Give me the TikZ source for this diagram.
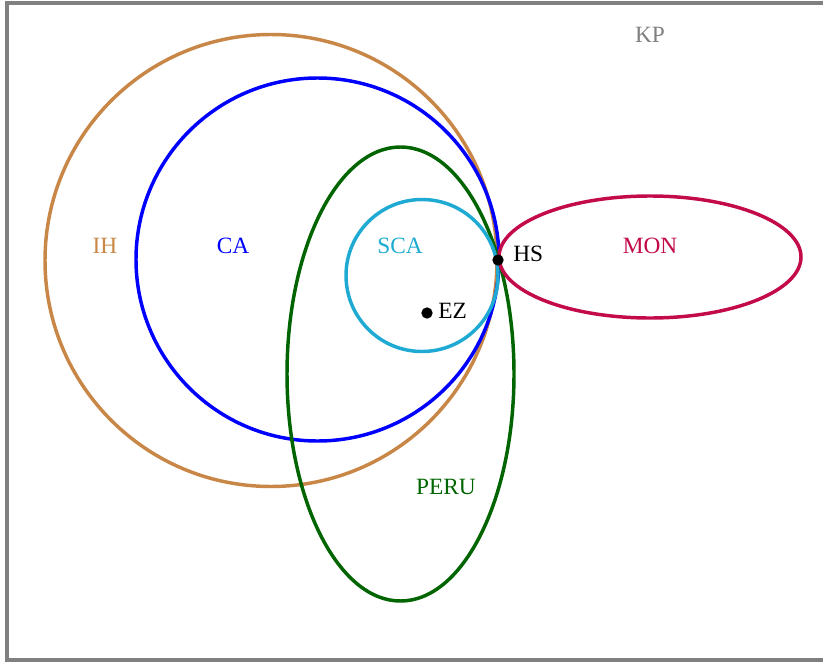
\documentclass[tikz,border=0pt]{standalone}
\usepackage{fontspec}
\setmainfont{Liberation Serif}
\definecolor{kpgray}{RGB}{128,128,128}
\definecolor{ihbrown}{RGB}{200,135,70}
\definecolor{cablue}{RGB}{0,0,255}
\definecolor{scacyan}{RGB}{30,170,210}
\definecolor{perugreen}{RGB}{0,100,0}
\definecolor{moncrimson}{RGB}{195,10,75}
\begin{document}
\begin{tikzpicture}[x=0.75pt,y=-0.75pt,
  setline/.style={line width=2.6pt},
  lbl/.style={font=\fontsize{17.5}{20}\selectfont, inner sep=0pt},
  dotpt/.style={circle, fill=black, inner sep=0pt, minimum size=8.5pt}]
\useasboundingbox (0,0) rectangle (823,663);
% frame KP
\draw[kpgray, line width=3pt] (7,3) rectangle (828,660);
\node[lbl, text=kpgray] (kp) at (650,35) {KP};
% IH
\draw[setline, ihbrown] (271,260.5) circle[radius=226*0.75pt];
\node[lbl, text=ihbrown] (ih) at (105,246) {IH};
% CA
\draw[setline, cablue] (317.5,259.5) circle[radius=181.5*0.75pt];
\node[lbl, text=cablue] (ca) at (233,246) {CA};
% PERU
\draw[setline, perugreen] (400.5,374) ellipse[x radius=113.5*0.75pt, y radius=227*0.75pt];
\node[lbl, text=perugreen] (peru) at (446,487) {PERU};
% SCA
\draw[setline, scacyan] (422,275.5) circle[radius=76*0.75pt];
\node[lbl, text=scacyan] (sca) at (400,246) {SCA};
% MON
\draw[setline, moncrimson] (650,257) ellipse[x radius=151*0.75pt, y radius=61*0.75pt];
\node[lbl, text=moncrimson] (mon) at (650,246) {MON};
% points
\node[dotpt] (hs) at (498,260) {};
\node[lbl, anchor=west] (hslbl) at (513,254) {HS};
\node[dotpt] (ez) at (427,313) {};
\node[lbl, anchor=west] (ezlbl) at (438,311) {EZ};
\end{tikzpicture}
\end{document}
